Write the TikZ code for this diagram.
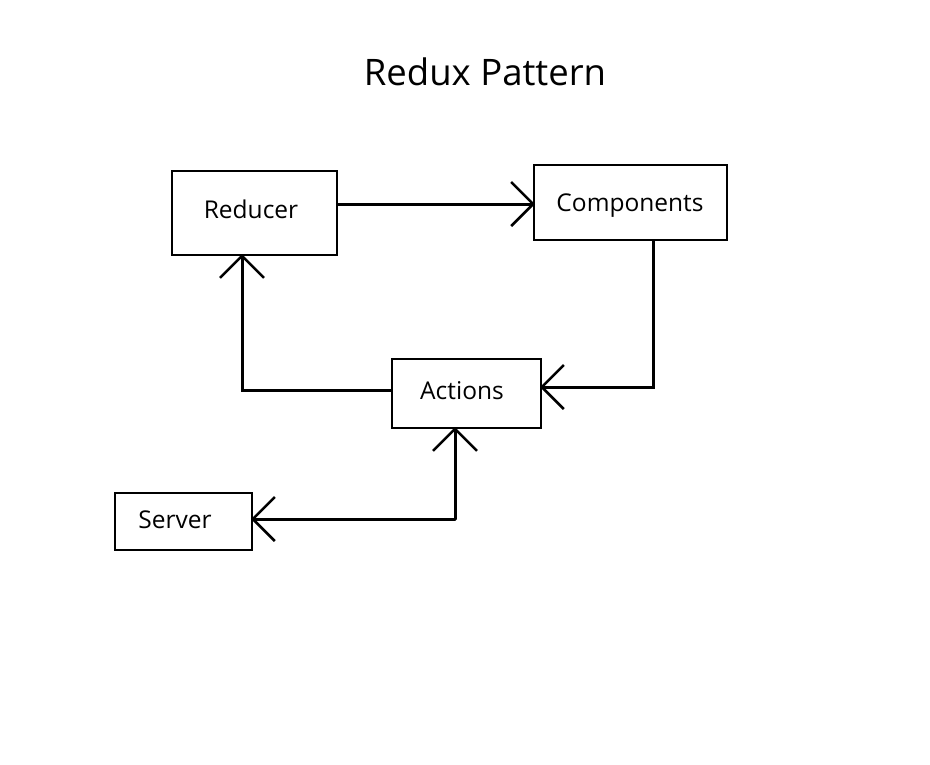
\documentclass[tikz,border=0pt]{standalone}
\usepackage{fontspec}
\setmainfont{Open Sans}
\usetikzlibrary{arrows.meta}
\begin{document}
\begin{tikzpicture}[x=1pt,y=-1pt,
  box/.style={draw=black, line width=2pt, rectangle, inner sep=0pt},
  lbl/.style={inner sep=0pt, font=\fontsize{24.5}{28}\selectfont},
  conn/.style={draw=black, line width=3pt, line cap=round, line join=miter},
  arr/.style={conn, shorten >=-2pt, -{Straight Barb[length=22pt, width=44pt, line width=2.5pt]}}]
\useasboundingbox (0,0) rectangle (930,764);
\fill[white] (0,0) rectangle (930,764);
\node[inner sep=0pt, font=\fontsize{36.5}{42}\selectfont] (title) at (485,72) {Redux Pattern};
% boxes
\node[box, minimum width=165pt, minimum height=84pt] (reducer) at (254.5,213) {};
\node[box, minimum width=193pt, minimum height=75pt] (components) at (630.5,202.5) {};
\node[box, minimum width=149pt, minimum height=69pt] (actions) at (466.5,393.5) {};
\node[box, minimum width=137pt, minimum height=57pt] (server) at (183.5,521.5) {};
% labels
\node[lbl] (reducerT) at (251,209) {Reducer};
\node[lbl] (componentsT) at (630,206) {Components};
\node[lbl] (actionsT) at (462,391) {Actions};
\node[lbl] (serverT) at (175,520) {Server};
% bend points
\coordinate (c1) at (653,387);
\coordinate (c2) at (242,390);
\coordinate (c3) at (455,519);
\coordinate (r1) at (337,204);
% connectors
\draw[arr] (reducer.east |- r1) -- (components.west |- r1);
\draw[arr] (components.south -| c1) -- (c1) -- (actions.east |- c1);
\draw[arr] (actions.west |- c2) -- (c2) -- (reducer.south -| c2);
\draw[arr] (c3) -- (actions.south -| c3);
\draw[arr] (c3) -- (server.east |- c3);
\end{tikzpicture}
\end{document}
